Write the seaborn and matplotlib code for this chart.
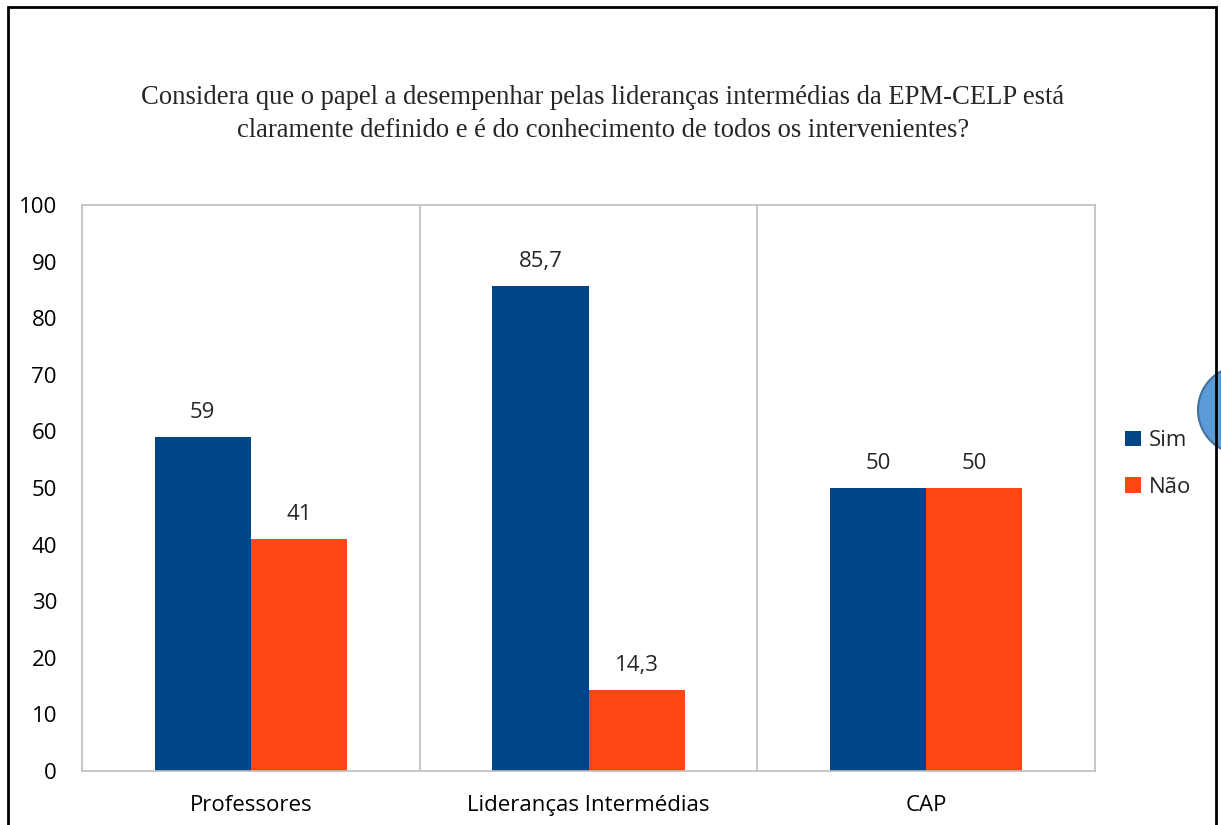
import pandas as pd
import seaborn as sns
import matplotlib.pyplot as plt
from matplotlib.patches import Rectangle, Ellipse

# chart data
categories = ["Professores", "Lideranças Intermédias", "CAP"]
sim = [59, 85.7, 50]
nao = [41, 14.3, 50]
series = ["Sim", "Não"]
y_ticks = list(range(0, 101, 10))

title = ("Considera que o papel a desempenhar pelas lideranças intermédias da EPM-CELP está\n"
         "claramente definido e é do conhecimento de todos os intervenientes?")

colors = {"Sim": "#004586", "Não": "#FF4512"}

df = pd.DataFrame({
    "categoria": categories * 2,
    "serie": ["Sim"] * len(categories) + ["Não"] * len(categories),
    "valor": sim + nao,
})

sns.set_style("white")
plt.rcParams['font.family'] = ['Open Sans', 'DejaVu Sans']

W, H = 1221, 825
fig = plt.figure(figsize=(W / 100, H / 100), dpi=100)
ax = fig.add_axes([82 / W, 54 / H, 1013 / W, 566 / H])

sns.barplot(data=df, x="categoria", y="valor", hue="serie", hue_order=series,
            palette=colors, width=0.57, saturation=1, linewidth=0, ax=ax, legend=True)

ax.set_xlim(-0.5, len(categories) - 0.5)
ax.set_ylim(0, 100)
ax.set_yticks(y_ticks)
ax.set_xlabel("")
ax.set_ylabel("")
ax.tick_params(axis="both", length=0, labelsize=16, colors="black")
ax.tick_params(axis="y", pad=18)
ax.tick_params(axis="x", pad=17)

for s in ax.spines.values():
    s.set_color("#BEBEBE")
    s.set_linewidth(1.2)

# vertical separators between categories
for xb in [0.5, 1.5]:
    ax.axvline(xb, color="#BEBEBE", lw=1.2, zorder=0)

# data labels
for cont in ax.containers:
    labels = [f"{v:g}".replace(".", ",") for v in cont.datavalues]
    ax.bar_label(cont, labels=labels, padding=10, fontsize=16)

leg = ax.legend(loc="center left", bbox_to_anchor=(1.01, 0.542), frameon=False,
                fontsize=16, handlelength=0.7, handleheight=0.7,
                handletextpad=0.35, labelspacing=1.15)

fig.text(603 / W, 1 - 114 / H, title, ha="center", va="center",
         fontsize=19.2, family="Liberation Serif", linespacing=1.45)

# blue shape cut off at the right edge
r = 44
fig.patches.append(Ellipse((1242 / W, 1 - 410 / H), 2 * r / W, 2 * r / H,
                           transform=fig.transFigure, facecolor="#5B9BD5",
                           edgecolor="#41719C", lw=1.5, zorder=1))

# outer frame
fig.patches.append(Rectangle((8 / W, -0.05), 1208 / W, 1 - 7 / H + 0.05,
                             transform=fig.transFigure, fill=False,
                             edgecolor="black", lw=2, zorder=2))

fig.savefig("out.png", dpi=100)
